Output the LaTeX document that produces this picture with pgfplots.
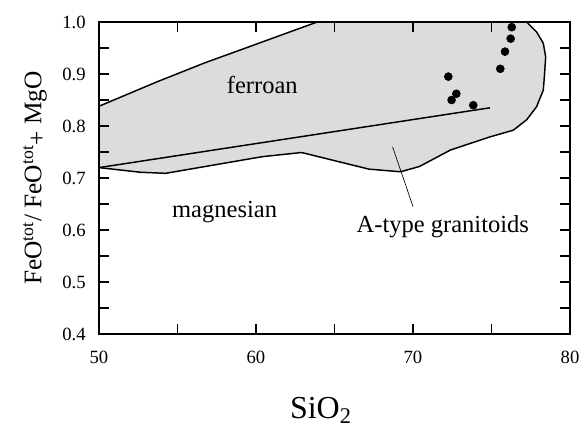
\documentclass[border=0pt]{standalone}
\usepackage{fontspec}
\setmainfont{Liberation Serif}
\usepackage{pgfplots}
\pgfplotsset{compat=1.18}
\definecolor{fieldgray}{RGB}{220,220,220}
\begin{document}
\begin{tikzpicture}
\useasboundingbox (-74.25pt,-70.5pt) rectangle (362.25pt,250.5pt);
\begin{axis}[
  at={(0,0)}, anchor=south west,
  scale only axis, width=353.25pt, height=234pt,
  xmin=50, xmax=80, ymin=0.4, ymax=1.0,
  xtick={50,60,70,80}, minor xtick={55,65,75},
  xticklabels={50,\raisebox{-6.75pt}{60},\raisebox{-9.75pt}{70},\raisebox{-3pt}{80}},
  ytick={0.4,0.5,0.6,0.7,0.8,0.9,1.0},
  minor ytick={0.45,0.55,0.65,0.75,0.85,0.95},
  tick align=inside, major tick length=7.5pt, minor tick length=7.5pt,
  xtick pos=both, ytick pos=both, xticklabel pos=lower, yticklabel pos=left,
  every tick/.style={black, line width=0.8pt},
  axis line style={line width=1.1pt},
  axis on top,
  /pgf/number format/assume math mode=true,
  ticklabel style={font=\fontsize{14}{16}\selectfont},
  yticklabel style={/pgf/number format/fixed, /pgf/number format/fixed zerofill, /pgf/number format/precision=1, xshift=-6.5pt},
  xticklabel style={yshift=-9pt, anchor=north},
  xlabel={SiO\textsubscript{2}},
  ylabel={FeO\textsuperscript{tot}/ FeO\textsuperscript{tot}\raisebox{-0.15em}{+} MgO},
  xlabel style={at={(axis description cs:0.471,-0.246)}, anchor=center, font=\fontsize{24}{28}\selectfont},
  ylabel style={at={(axis description cs:-0.136,0.5)}, anchor=center, font=\fontsize{19}{22}\selectfont},
]
\addplot[fill=fieldgray, draw=black, line width=1.1pt, line join=round] coordinates {
  (50,0.838) (53.7,0.885) (56.7,0.921) (63.9,1.0) (77.24,1.0) (77.87,0.981)
  (78.30,0.959) (78.45,0.933) (78.38,0.90) (78.30,0.869) (77.87,0.837) (77.24,0.812)
  (76.39,0.792) (74.9,0.779) (72.4,0.754) (70.4,0.722) (69.2,0.712) (67.2,0.717)
  (62.9,0.749) (60.4,0.741) (54.24,0.709) (52.65,0.711) (50,0.72)
} -- cycle;
\addplot[black, line width=1.1pt] coordinates {(50,0.72) (74.9,0.835)};
\addplot[black, line width=0.5pt] coordinates {(68.7,0.76) (70.0,0.645)};
\addplot[only marks, mark=*, mark size=3pt, black] coordinates {
  (76.29,0.990) (76.22,0.968) (75.86,0.943) (75.56,0.910)
  (72.25,0.895) (72.76,0.862) (72.46,0.850) (73.84,0.840)
};
\node[font=\fontsize{18.4}{22}\selectfont] at (axis cs:60.4,0.879) {ferroan};
\node[font=\fontsize{18.4}{22}\selectfont] at (axis cs:58.0,0.635) {magnesian};
\node[font=\fontsize{18.4}{22}\selectfont] at (axis cs:71.9,0.606) {A-type granitoids};
\end{axis}
\end{tikzpicture}
\end{document}
